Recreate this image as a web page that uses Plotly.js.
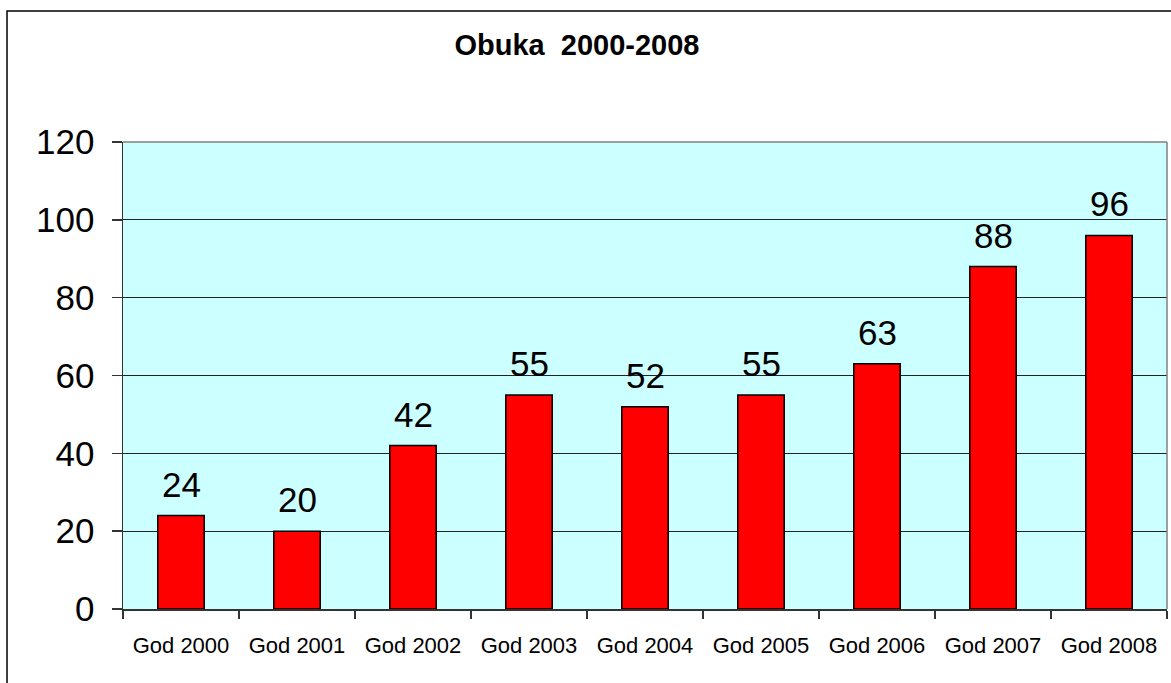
<!DOCTYPE html>
<html>
<head>
<meta charset="utf-8">
<script src="https://cdn.plot.ly/plotly-3.0.1.min.js"></script>
<style>
  html, body { margin: 0; padding: 0; background: #fff; }
  #chart { width: 1171px; height: 683px; }
</style>
</head>
<body>
<div id="chart"></div>
<script>
const categories = [
  "God 2000", "God 2001", "God 2002", "God 2003", "God 2004",
  "God 2005", "God 2006", "God 2007", "God 2008"
];

const values = [24, 20, 42, 55, 52, 55, 63, 88, 96];

const yTicks = [0, 20, 40, 60, 80, 100, 120];

const titleText = "Obuka  2000-2008";

const font = "Arial, 'Liberation Sans', sans-serif";

const trace = {
  type: "bar",
  x: categories,
  y: values,
  marker: {
    color: "#ff0000",
    line: { color: "#000000", width: 1.5 }
  },
  hoverinfo: "x+y"
};

// value labels above each bar
const labels = categories.map((c, i) => ({
  x: c,
  y: values[i],
  xref: "x",
  yref: "y",
  text: String(values[i]),
  showarrow: false,
  yanchor: "bottom",
  yshift: 10,
  font: { family: font, size: 35, color: "#000" }
}));

const layout = {
  width: 1171,
  height: 683,
  margin: { l: 123, r: 4, t: 142, b: 74 },
  paper_bgcolor: "#ffffff",
  plot_bgcolor: "#ccffff",
  showlegend: false,
  bargap: 0.6,
  font: { family: font, color: "#000" },
  title: {
    text: "<b>" + titleText + "</b>",
    x: 0.4927,
    xref: "container",
    xanchor: "center",
    y: 0.935,
    yref: "container",
    yanchor: "middle",
    font: { family: font, size: 29, color: "#000" }
  },
  xaxis: {
    type: "category",
    tickson: "boundaries",
    ticks: "outside",
    ticklen: 8,
    tickcolor: "#333",
    tickwidth: 1.5,
    showline: true,
    linecolor: "#333",
    linewidth: 1.5,
    showgrid: false,
    tickfont: { family: font, size: 22, color: "#000" },
    ticklabelstandoff: 16
  },
  yaxis: {
    range: [0, 120],
    tickvals: yTicks,
    ticks: "outside",
    ticklen: 10,
    tickcolor: "#333",
    tickwidth: 1.5,
    showline: true,
    linecolor: "#333",
    linewidth: 1.5,
    showgrid: true,
    gridcolor: "#222",
    gridwidth: 1.2,
    zeroline: false,
    tickfont: { family: font, size: 35, color: "#000" },
    ticklabelstandoff: 10
  },
  annotations: labels,
  shapes: [
    // plot area top and right edges
    {
      type: "line", xref: "paper", yref: "paper",
      x0: 0, x1: 1, y0: 1, y1: 1,
      line: { color: "#808080", width: 1.5 }
    },
    {
      type: "line", xref: "paper", yref: "paper",
      x0: 1, x1: 1, y0: 0, y1: 1,
      line: { color: "#808080", width: 1.5 }
    },
    // outer chart frame
    {
      type: "rect", xref: "paper", yref: "paper",
      x0: -0.1111, x1: 1.01, y0: -0.18, y1: 1.2805,
      line: { color: "#000", width: 1.5 },
      layer: "below"
    }
  ]
};

Plotly.newPlot("chart", [trace], layout, {
  displayModeBar: false,
  staticPlot: true
});
</script>
</body>
</html>
